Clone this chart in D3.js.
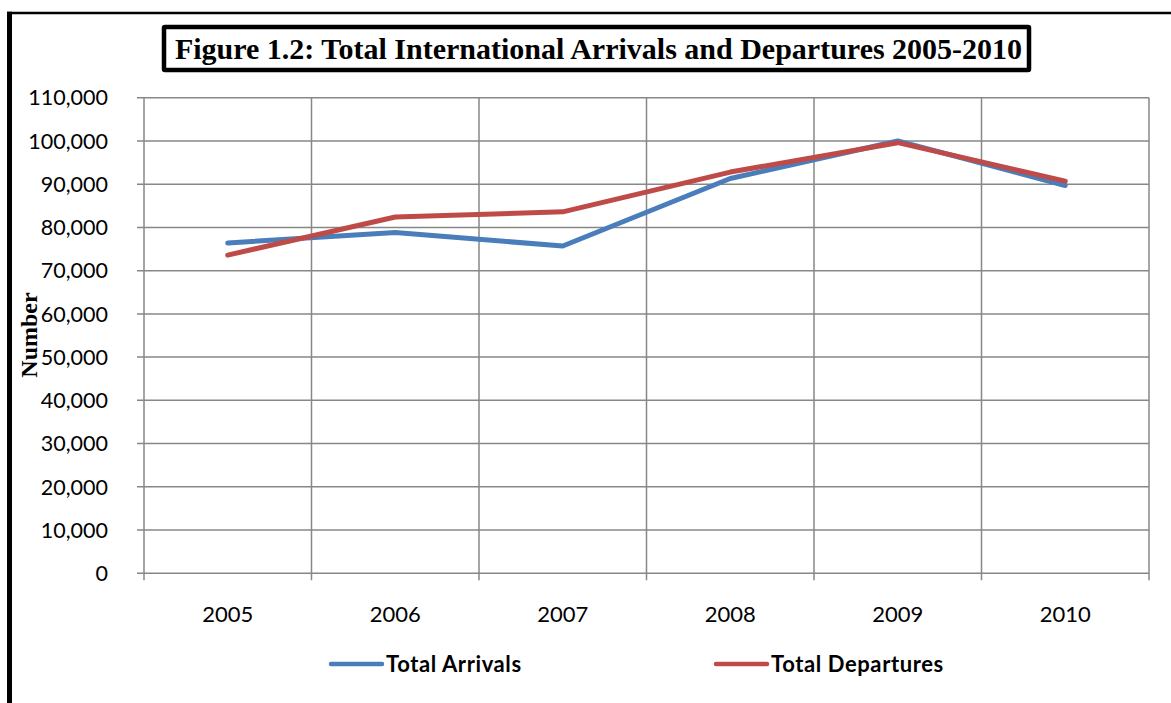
<!DOCTYPE html>
<html>
<head>
<meta charset="utf-8">
<script src="https://cdn.jsdelivr.net/npm/d3@7"></script>
<style>
  body { margin: 0; background: #fff; }
  svg { display: block; }
</style>
</head>
<body>
<div id="chart"></div>
<script>
// data
const years = ["2005", "2006", "2007", "2008", "2009", "2010"]
const arrivals = [76400, 78800, 75700, 91300, 100000, 89700]
const departures = [73600, 82400, 83600, 92800, 99600, 90700]
const yTicks = [0, 10000, 20000, 30000, 40000, 50000, 60000, 70000, 80000, 90000, 100000, 110000]
const seriesNames = ["Total Arrivals", "Total Departures"]
const colors = ["#4a7ebb", "#be4b48"]

const series = [arrivals, departures].map((vals, i) => ({
  name: seriesNames[i],
  color: colors[i],
  values: vals.map((v, j) => ({ year: years[j], num: v }))
}))

const width = 1171, height = 703
const dims = { left: 144, right: 1149, top: 97.7, bottom: 573.3 }

const svg = d3.select("#chart").append("svg")
  .attr("width", width)
  .attr("height", height)

// outer frame
svg.append("line").attr("x1", 9.5).attr("x2", 9.5).attr("y1", 11.8).attr("y2", height + 5)
  .attr("stroke", "#000").attr("stroke-width", 5)
svg.append("line").attr("x1", 7).attr("x2", width + 5).attr("y1", 13).attr("y2", 13)
  .attr("stroke", "#000").attr("stroke-width", 2.5)

const xScale = d3.scaleBand().domain(years).range([dims.left, dims.right])
const yScale = d3.scaleLinear().domain([0, 110000]).range([dims.bottom, dims.top])

// horizontal grid + y ticks
svg.append("g").selectAll("line")
  .data(yTicks)
  .join("line")
  .attr("x1", dims.left - 7).attr("x2", dims.right)
  .attr("y1", d => yScale(d)).attr("y2", d => yScale(d))
  .attr("stroke", "#878787").attr("stroke-width", 1.5)

// vertical grid (band edges), ticks poke below the axis
const edges = years.map(y => xScale(y)).concat([dims.right])
svg.append("g").selectAll("line")
  .data(edges)
  .join("line")
  .attr("x1", d => d).attr("x2", d => d)
  .attr("y1", dims.top).attr("y2", dims.bottom + 7)
  .attr("stroke", "#878787").attr("stroke-width", 1.5)

// y labels
svg.append("g").selectAll("text")
  .data(yTicks)
  .join("text")
  .attr("x", 108)
  .attr("y", d => yScale(d))
  .attr("dy", "0.36em")
  .attr("text-anchor", "end")
  .style("font-family", "Lato, 'Open Sans', sans-serif")
  .style("font-size", "21.5px")
  .attr("fill", "#000")
  .text(d => d3.format(",")(d))

// x labels
svg.append("g").selectAll("text")
  .data(years)
  .join("text")
  .attr("x", d => xScale(d) + xScale.bandwidth() / 2)
  .attr("y", 621.5)
  .attr("text-anchor", "middle")
  .style("font-family", "Lato, 'Open Sans', sans-serif")
  .style("font-size", "22px")
  .attr("fill", "#000")
  .text(d => d)

// lines
const lineGen = d3.line()
  .x(d => xScale(d.year) + xScale.bandwidth() / 2)
  .y(d => yScale(d.num))

svg.append("g").selectAll("path")
  .data(series)
  .join("path")
  .attr("d", d => lineGen(d.values))
  .attr("fill", "none")
  .attr("stroke", d => d.color)
  .attr("stroke-width", 5)
  .attr("stroke-linejoin", "round")
  .attr("stroke-linecap", "round")

// y axis title
svg.append("text")
  .attr("transform", "translate(37,335) rotate(-90)")
  .attr("text-anchor", "middle")
  .style("font-family", "'Liberation Serif', 'Times New Roman', serif")
  .style("font-weight", "bold")
  .style("font-size", "24px")
  .text("Number")

// title box
svg.append("rect")
  .attr("x", 164).attr("y", 27)
  .attr("width", 865).attr("height", 43)
  .attr("fill", "#fff")
  .attr("stroke", "#000").attr("stroke-width", 4.5)
  .attr("rx", 1)

svg.append("text")
  .attr("x", 598.5)
  .attr("y", 59)
  .attr("text-anchor", "middle")
  .style("font-family", "'Liberation Serif', 'Times New Roman', serif")
  .style("font-weight", "bold")
  .style("font-size", "30px")
  .text("Figure 1.2: Total International Arrivals and Departures 2005-2010")

// legend
const legendX = [331, 716]
const legend = svg.append("g").selectAll("g")
  .data(series)
  .join("g")
  .attr("transform", (d, i) => `translate(${legendX[i]},664)`)

legend.append("line")
  .attr("x1", 0).attr("x2", 51)
  .attr("stroke", d => d.color)
  .attr("stroke-width", 4.5)
  .attr("stroke-linecap", "round")

legend.append("text")
  .attr("x", 55)
  .attr("dy", "0.36em")
  .style("font-family", "Lato, 'Open Sans', sans-serif")
  .style("font-weight", "bold")
  .style("font-size", "22px")
  .style("letter-spacing", "0.6px")
  .text(d => d.name)
</script>
</body>
</html>
